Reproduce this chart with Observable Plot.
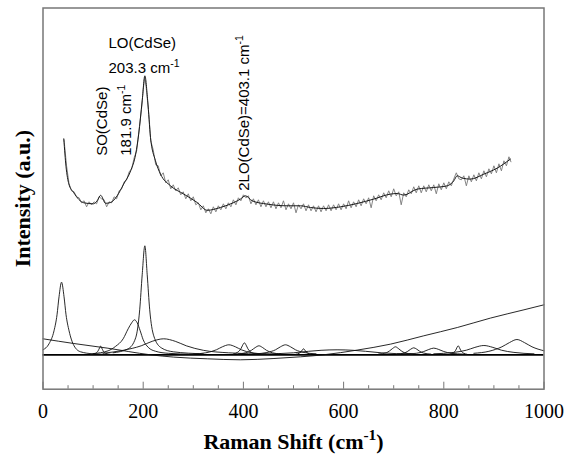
<!DOCTYPE html>
<html><head><meta charset="utf-8">
<script src="https://cdn.jsdelivr.net/npm/d3@7"></script>
<script src="https://cdn.jsdelivr.net/npm/@observablehq/plot@0.6"></script>
<style>body{margin:0;background:#fff;}</style>
</head><body><div id="chart"></div>
<script>
// Fitted (smooth) spectrum, Raman shift (cm-1) vs intensity (a.u.)
const fitCurve = [[41.5,216],[46,188],[51.5,171],[61.5,162],[81.5,152],[101,151],[108,154],[115,159.5],[125,151.5],[135,152.3],[148,159],[161,170.7],[175,184],[185,200.7],[191,220.7],[198,254],[203.3,279],[209,254],[214.6,217.3],[224.5,194],[234.5,180.7],[254.5,169],[281,160.7],[307.8,152.3],[327.7,144.5],[354,147.3],[381,152.3],[394,155.7],[404,159],[417.5,154],[447.5,150.7],[487,149],[514,149],[534,147.3],[560,146.3],[594,148],[627,151.3],[660,155.7],[693.6,160.7],[707,161.3],[720,159.7],[747,165.7],[780,167.3],[807,169],[820,174],[826.7,179],[837,176.7],[853,175.7],[880,180.7],[906.6,186.7],[933,195.7]];

// Measured (noisy) spectrum
const rawSpectrum = [[42,215],[47,189],[52,171],[57,164],[62,163],[67,158],[72,157],[77,152],[82,154],[87,148],[92,153],[97,150],[102,153],[107,151],[112,158],[117,156],[122,155],[127,148],[132,153],[137,152],[142,158],[147,156],[152,164],[157,166],[162,173],[167,175],[172,183],[177,186],[182,197],[187,204],[192,226],[197,248],[200,265],[203,278],[206,267],[209,252],[212,236],[215,214],[220,205],[225,190],[230,189],[235,179],[240,182],[245,172],[250,175],[255,166],[260,170],[265,164],[270,167],[275,160],[280,163],[285,156],[290,161],[295,154],[300,158],[305,150],[310,152],[315,145],[320,149],[325,142],[330,146],[335,141],[340,148],[345,143],[350,149],[355,145],[360,151],[365,146],[370,152],[375,148],[380,155],[385,150],[390,157],[395,154],[400,160],[405,157],[410,159],[415,151],[420,156],[425,150],[430,155],[435,148],[440,154],[445,148],[450,153],[455,147],[460,153],[465,146],[470,152],[475,147],[480,154],[485,145],[490,151],[495,146],[500,152],[505,142],[510,150],[515,146],[520,151],[525,144],[530,150],[535,144],[540,149],[545,143],[550,149],[555,143],[560,149],[565,144],[570,150],[575,144],[580,150],[585,145],[590,151],[595,145],[600,151],[605,146],[610,154],[615,147],[620,153],[625,148],[630,155],[635,149],[640,156],[645,151],[650,157],[655,147],[660,159],[665,154],[670,160],[675,155],[680,162],[685,157],[690,164],[695,158],[700,166],[705,159],[710,163],[715,150],[720,162],[725,158],[730,165],[735,161],[740,168],[745,162],[750,169],[755,162],[760,169],[765,163],[770,170],[775,164],[780,170],[785,161],[790,171],[795,165],[800,172],[805,166],[810,173],[815,169],[820,176],[825,182],[830,176],[835,175],[840,179],[845,169],[850,179],[855,173],[860,180],[865,174],[870,182],[875,176],[880,184],[885,178],[890,186],[895,181],[900,189],[905,182],[910,191],[915,184],[920,194],[925,189],[930,198],[934,193]];

// Fitted background
const background = [[0,16],[61.5,11.3],[128,6.7],[214.6,0],[261,-2.3],[328,-4],[394,-5],[461,-3.7],[514,-2],[560,0],[627,4.7],[694,10.7],[760,19],[827,27.3],[893,36.7],[960,45],[1000,50]];

// Fitted peak components
const peak37  = [[0,5],[12,11],[22,24],[28,40],[32,58],[37,72.6],[42,58],[46,40],[52,24],[62,9],[75,3],[100,1],[140,0.3]];
const peak115 = [[95,0.3],[105,1.5],[110,4],[113,7],[115,8.7],[117,7],[120,4],[125,1.5],[135,0.3]];
const peak182 = [[100,1.2],[130,4],[145,8.5],[160,16],[170,26],[177,32],[182.6,35],[188,32],[194,24],[200,15],[210,7.5],[225,3.5],[250,1.5],[300,0.5]];
const peak203 = [[140,2],[170,6],[185,17],[193,45],[198,80],[203.3,109],[208,80],[213,45],[221,19],[236,7],[260,3],[320,1]];
const peak241 = [[120,1.5],[160,4.5],[196,9],[218,13.5],[241,16],[264,13.5],[286,9],[320,4.5],[370,2],[450,0.6]];
const peak371 = [[300,0.8],[325,2],[346,5],[358,8],[371,10],[384,8],[396,5],[417,2],[445,0.8]];
const peak402 = [[380,0.8],[388,2.4],[395,6],[398.5,9.6],[402,12],[405.5,9.6],[409,6],[416,2.4],[426,0.8]];
const peak431 = [[390,0.9],[404,2],[416,4.5],[423.5,7.2],[431,9],[438.5,7.2],[446,4.5],[458,2],[474,0.9]];
const peak484 = [[424,1],[447,2.3],[464,5],[474,8],[484,10],[494,8],[504,5],[521,2.3],[545,1]];
const peak520 = [[505,0.6],[511,1.5],[515,3],[517.5,4.8],[520,6],[522.5,4.8],[525,3],[529,1.5],[535,0.6]];
const peak587 = [[440,0.8],[500,2],[530,3.5],[555,4.5],[587,5],[619,4.5],[644,3.5],[675,2],[735,0.8]];
const peak704 = [[670,0.8],[685,2],[692,4],[698,6.4],[703.6,8],[709,6.4],[715,4],[722,2],[738,0.8]];
const peak740 = [[706,0.7],[721,1.8],[728,3.5],[734,5.6],[740,7],[746,5.6],[752,3.5],[759,1.8],[774,0.7]];
const peak780 = [[720,0.7],[745,1.5],[760,3.3],[770,5.3],[780,6.7],[790,5.3],[800,3.3],[815,1.5],[840,0.7]];
const peak829 = [[812,0.6],[818,1.8],[823.7,4.5],[826.2,7.2],[828.7,9],[831.2,7.2],[833.7,4.5],[839,1.8],[846,0.6]];
const peak880 = [[780,1],[820,2.4],[845,4.6],[862,7.4],[880,9.3],[898,7.4],[915,4.6],[940,2.4],[980,1]];
const peak946 = [[860,1.5],[890,3.5],[916,8],[931,12.2],[946,15.3],[961,12.2],[976,8],[1000,4]];

const baselineLevel = [0];
const xMajorTicks = [0,200,400,600,800,1000];
const xMinorTicks = [50,100,150,250,300,350,450,500,550,650,700,750,850,900,950];

const annotations = [
  {x:130.7, y:307, text:"LO(CdSe)", rotate:0},
  {x:130.7, y:282, text:"203.3 cm-1", rotate:0},
  {x:118.8, y:199, text:"SO(CdSe)", rotate:-90},
  {x:166.5, y:199, text:"181.9 cm-1", rotate:-90},
  {x:402, y:164, text:"2LO(CdSe)=403.1 cm-1", rotate:-90}
];

const peaks = [peak37,peak115,peak182,peak203,peak241,peak371,peak402,peak431,peak484,peak520,peak587,peak704,peak740,peak780,peak829,peak880,peak946];
const components = peaks.flatMap((pts,i)=>pts.map(([x,y])=>({id:i,x,y})));

const W=579,H=459,ML=42.5,MR=35.5,MT=7.5,MB=70.3;
const frameH = H-MT-MB;
const serif = "'Liberation Serif','Times New Roman',serif";

const plot = Plot.plot({
  width:W, height:H, marginLeft:ML, marginRight:MR, marginTop:MT, marginBottom:MB,
  x:{domain:[0,1000], axis:null},
  y:{domain:[-34.4,346.8], axis:null},
  style:{fontFamily:"'Liberation Sans', Arial, sans-serif", background:"white", color:"#000"},
  marks:[
    Plot.ruleY(baselineLevel,{stroke:"#000",strokeWidth:1.7}),
    Plot.line(components,{x:"x",y:"y",z:"id",curve:"monotone-x",stroke:"#111",strokeWidth:0.9}),
    Plot.line(background,{x:d=>d[0],y:d=>d[1],curve:"monotone-x",stroke:"#111",strokeWidth:0.9}),
    Plot.line(rawSpectrum,{x:d=>d[0],y:d=>d[1],stroke:"#777",strokeWidth:0.9}),
    Plot.line(fitCurve,{x:d=>d[0],y:d=>d[1],curve:"monotone-x",stroke:"#1a1a1a",strokeWidth:1}),
    Plot.tickX(xMinorTicks,{x:d=>d,stroke:"#777",strokeWidth:1,insetTop:frameH-3.5}),
    Plot.tickX(xMajorTicks,{x:d=>d,stroke:"#777",strokeWidth:1,insetTop:frameH-7}),
    Plot.frame({stroke:"#777",strokeWidth:1.5}),
    Plot.axisX(xMajorTicks,{tickSize:0,tickPadding:15,fontSize:20,fontFamily:serif,tickFormat:d=>String(d),label:null,fill:"#000"}),
    Plot.text(annotations.filter(d=>d.rotate===0),{x:"x",y:"y",text:"text",textAnchor:"start",lineAnchor:"bottom",fontSize:15,fill:"#000"}),
    Plot.text(annotations.filter(d=>d.rotate!==0),{x:"x",y:"y",text:"text",rotate:-90,textAnchor:"start",lineAnchor:"middle",fontSize:15,fill:"#000"}),
    Plot.text(["Raman Shift (cm-1)"],{frameAnchor:"bottom",text:d=>d,dy:60,textAnchor:"middle",lineAnchor:"bottom",fontSize:22,fontWeight:"bold",fontFamily:serif,fill:"#000"}),
    Plot.text(["Intensity (a.u.)"],{frameAnchor:"left",text:d=>d,dx:-20,rotate:-90,textAnchor:"middle",lineAnchor:"middle",fontSize:22,fontWeight:"bold",fontFamily:serif,fill:"#000"})
  ]
});
document.getElementById("chart").appendChild(plot);

// superscript "-1" in "cm-1"
d3.select(plot).selectAll("text").each(function(){
  const t=this, s=t.textContent, i=s.indexOf("cm-1");
  if(i<0 || t.querySelector("tspan")) return;
  const fs=parseFloat(getComputedStyle(t).fontSize)||15;
  const before=s.slice(0,i+2), after=s.slice(i+4);
  t.textContent=before;
  const ns="http://www.w3.org/2000/svg";
  const sup=document.createElementNS(ns,"tspan");
  sup.setAttribute("dy",(-fs*0.42).toFixed(1));
  sup.setAttribute("font-size",(fs*0.7).toFixed(1));
  sup.textContent="-1";
  t.appendChild(sup);
  if(after){
    const rest=document.createElementNS(ns,"tspan");
    rest.setAttribute("dy",(fs*0.42).toFixed(1));
    rest.textContent=after;
    t.appendChild(rest);
  }
});
</script>
</body></html>
